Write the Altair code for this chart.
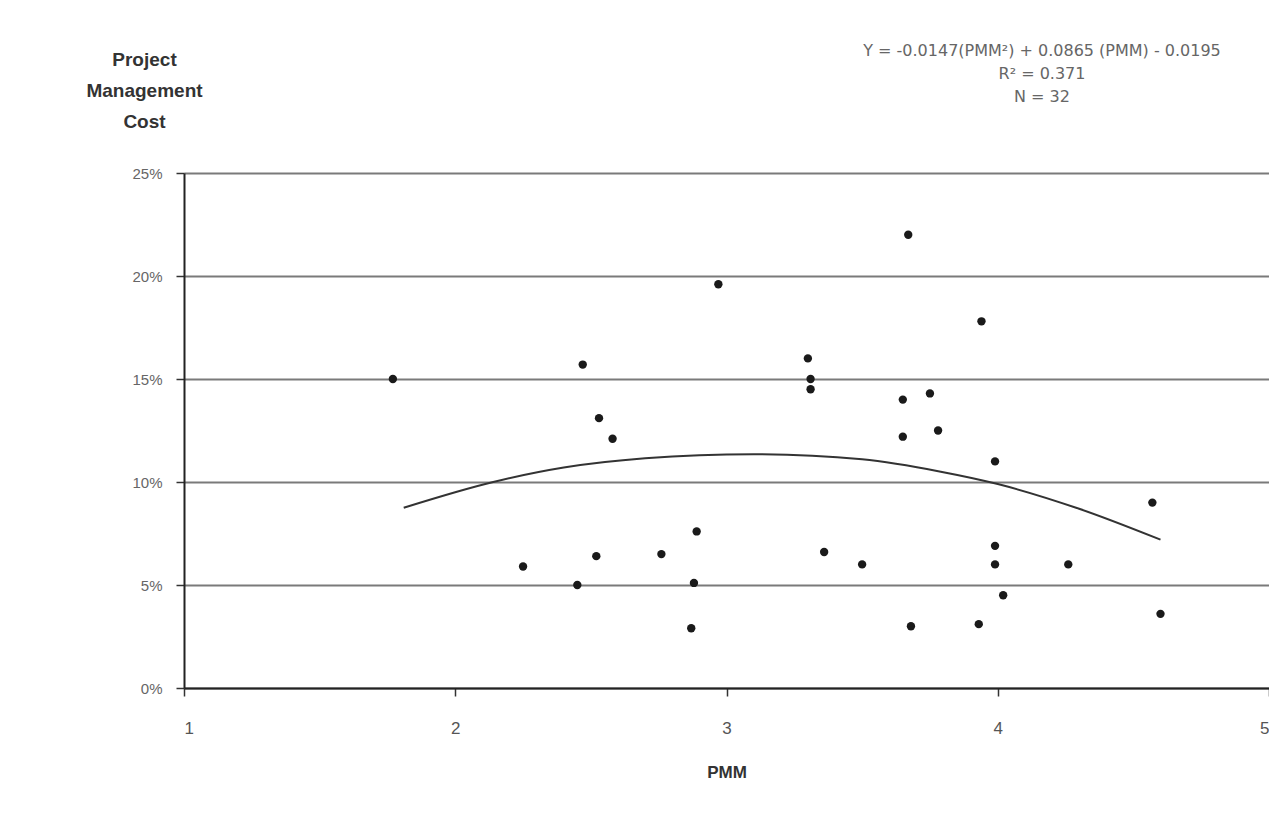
import altair as alt
import pandas as pd

pmm = [1.77, 2.47, 2.53, 2.58, 2.97, 3.67, 3.30, 3.31, 3.31, 3.65, 3.75, 3.65, 3.78, 3.94, 3.99,
       2.25, 2.45, 2.52, 2.76, 2.89, 2.88, 2.87, 3.36, 3.50, 3.68, 3.99, 3.99, 4.02, 3.93, 4.26,
       4.57, 4.60]
cost = [15.0, 15.7, 13.1, 12.1, 19.6, 22.0, 16.0, 15.0, 14.5, 14.0, 14.3, 12.2, 12.5, 17.8, 11.0,
        5.9, 5.0, 6.4, 6.5, 7.6, 5.1, 2.9, 6.6, 6.0, 3.0, 6.9, 6.0, 4.5, 3.1, 6.0,
        9.0, 3.6]
# fitted trend curve
fit_pmm = [1.81, 2.14, 2.4, 2.7, 3.1, 3.5, 3.79, 4.0, 4.3, 4.6]
fit_cost = [8.75, 10.0, 10.7, 11.15, 11.35, 11.1, 10.5, 9.9, 8.7, 7.2]
x_ticks = [1, 2, 3, 4, 5]
y_ticks = [0, 5, 10, 15, 20, 25]
y_title = ["Project", "Management", "Cost"]
equation = "Y = -0.0147(PMM\u00b2) + 0.0865 (PMM) - 0.0195\nR\u00b2 = 0.371\nN = 32"

df = pd.DataFrame({"PMM": pmm, "Cost": cost})
fit_df = pd.DataFrame({"PMM": fit_pmm, "Cost": fit_cost})
eq_df = pd.DataFrame({"text": [equation]})

FONT = "Liberation Sans"

x_enc = alt.X("PMM:Q", scale=alt.Scale(domain=[1, 5], nice=False),
              axis=alt.Axis(values=x_ticks, format="d", title="PMM", grid=False, tickSize=8,
                            labelPadding=24, labelFontSize=17, labelColor="#555", labelFont=FONT,
                            domainColor="#222", domainWidth=2, tickColor="#333", tickWidth=1.5,
                            titleFontSize=17, titleFontWeight="bold", titleColor="#333",
                            titleFont=FONT, titleY=89, titleBaseline="alphabetic"))
y_enc = alt.Y("Cost:Q", scale=alt.Scale(domain=[0, 25], nice=False),
              axis=alt.Axis(values=y_ticks, labelExpr="datum.value + '%'", title=y_title,
                            grid=True, gridColor="#7a7a7a", gridWidth=2, tickSize=8,
                            labelPadding=14, labelFontSize=15, labelColor="#666", labelFont=FONT,
                            domainColor="#222", domainWidth=2, tickColor="#333", tickWidth=1.5,
                            titleAngle=0, titleAlign="center", titleBaseline="top",
                            titleX=-40, titleY=-123, titleLineHeight=31, titleFontSize=19,
                            titleFontWeight="bold", titleColor="#333", titleFont=FONT))

points = alt.Chart(df).mark_circle(size=70, color="#1a1a1a", opacity=1).encode(x=x_enc, y=y_enc)

curve = alt.Chart(fit_df).mark_line(color="#333", strokeWidth=2, interpolate="monotone").encode(
    x="PMM:Q", y="Cost:Q")

eq = alt.Chart(eq_df).mark_text(fontSize=16, color="#666", font="DejaVu Sans", align="center",
                                baseline="top", lineBreak="\n", lineHeight=23).encode(
    x=alt.value(858), y=alt.value(-130), text="text:N")

chart = alt.layer(points, curve, eq).properties(
    width=1085, height=515,
    autosize=alt.AutoSizeParams(type="none"),
    padding={"left": 176, "top": 165, "right": 0, "bottom": 100},
).configure_view(stroke="#333", strokeWidth=2).configure(background="white")

chart.save("out.html", embed_options={"renderer": "svg", "actions": False})
